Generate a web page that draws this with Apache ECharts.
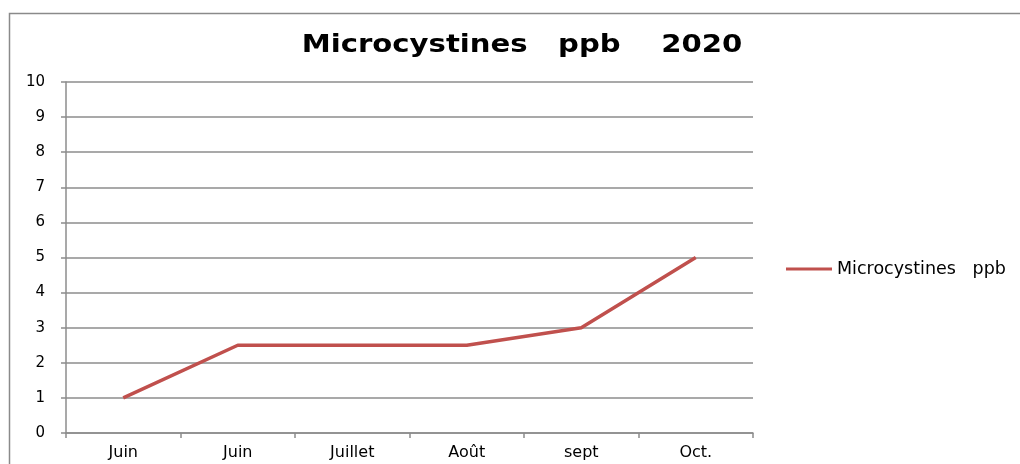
<!DOCTYPE html>
<html>
<head>
<meta charset="utf-8">
<script src="https://cdn.jsdelivr.net/npm/echarts@6/dist/echarts.min.js"></script>
<style>
  html, body { margin: 0; padding: 0; background: #fff; }
  #chart { width: 1020px; height: 464px; }
</style>
</head>
<body>
<div id="chart"></div>
<script>
// Monthly microcystin readings, 2020
const categories = ['Juin', 'Juin', 'Juillet', 'Août', 'sept', 'Oct.'];
const microcystines = [1, 2.5, 2.5, 2.5, 3, 5];
const seriesName = 'Microcystines   ppb';
const titleText = 'Microcystines   ppb    2020';

const labelFont = '"DejaVu Sans", Verdana, sans-serif';
const gridColor = '#8c8c8c';
const lineColor = '#c0504d';

const chart = echarts.init(document.getElementById('chart'), null, { renderer: 'canvas' });
chart.setOption({
  animation: false,
  backgroundColor: '#ffffff',
  graphic: [
    {
      // outer chart frame
      type: 'rect',
      left: 7, top: 11,
      shape: { width: 1100, height: 600 },
      style: { fill: 'none', stroke: '#8a8a8a', lineWidth: 1.5 },
      silent: true
    },
    {
      // chart title, drawn slightly widened
      type: 'text',
      x: 522, y: 45,
      scaleX: 1.165,
      style: {
        text: titleText,
        font: 'bold 25px "DejaVu Sans", Verdana, sans-serif',
        fill: '#000',
        align: 'center',
        verticalAlign: 'middle'
      },
      silent: true
    }
  ],
  legend: {
    data: [seriesName],
    left: 781, top: 255,
    icon: 'rect',
    itemWidth: 46, itemHeight: 3,
    textStyle: { fontFamily: labelFont, fontSize: 17.5, color: '#000' }
  },
  grid: { left: 66, right: 267, top: 82, bottom: 31, containLabel: false },
  xAxis: {
    type: 'category',
    data: categories,
    boundaryGap: true,
    axisLine: { lineStyle: { color: gridColor, width: 1.5 } },
    axisTick: { show: true, length: 5, lineStyle: { color: gridColor, width: 1.5 } },
    axisLabel: { fontFamily: labelFont, fontSize: 16, color: '#000', margin: 12 }
  },
  yAxis: {
    type: 'value',
    min: 0, max: 10, interval: 1,
    axisLine: { show: true, lineStyle: { color: gridColor, width: 1.5 } },
    axisTick: { show: true, length: 5, lineStyle: { color: gridColor, width: 1.5 } },
    axisLabel: { fontFamily: labelFont, fontSize: 15, color: '#000', margin: 21 },
    splitLine: { lineStyle: { color: gridColor, width: 1.5 } }
  },
  series: [{
    name: seriesName,
    type: 'line',
    data: microcystines,
    symbol: 'none',
    lineStyle: { color: lineColor, width: 3.5 },
    itemStyle: { color: lineColor }
  }]
});
</script>
</body>
</html>
